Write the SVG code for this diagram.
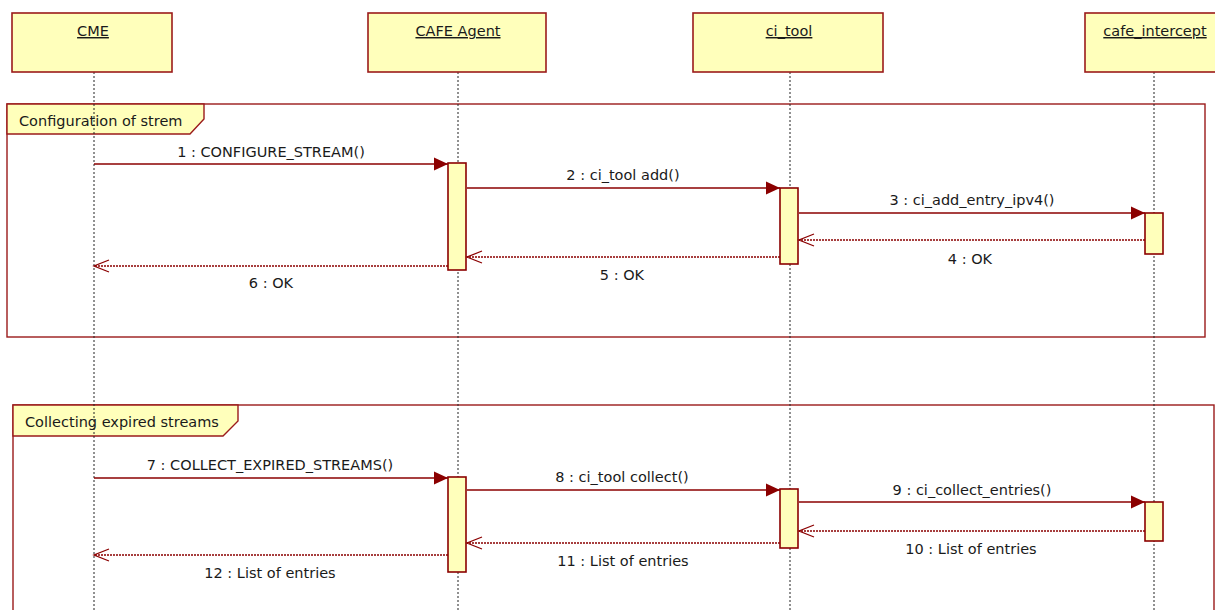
<svg xmlns="http://www.w3.org/2000/svg" width="1215" height="610" viewBox="0 0 1215 610">
<defs>
<style>
.bg{fill:#ffffff}
.box{fill:#FFFFBB;stroke:#9B1B1B;stroke-width:1.6}
.frame{fill:none;stroke:#9B1B1B;stroke-width:1.4}
.tab{fill:#FFFFBB;stroke:#9B1B1B;stroke-width:1.4}
.life{stroke:#222;stroke-width:1;stroke-dasharray:2,2;fill:none}
.act{fill:#FFFFBB;stroke:#8B0000;stroke-width:1.6}
.msg{stroke:#8B0000;stroke-width:1.5;fill:none;marker-end:url(#filled)}
.ret{stroke:#8B0000;stroke-width:1.3;stroke-dasharray:2,1;fill:none;marker-end:url(#open)}
text{font-family:"DejaVu Sans","Liberation Sans",sans-serif;font-size:14.5px;fill:#1a1a1a}
.name{text-anchor:middle;text-decoration:underline}
.lbl{text-anchor:middle}
</style>
<marker id="filled" markerUnits="userSpaceOnUse" markerWidth="16" markerHeight="14" refX="15" refY="7" orient="auto">
<path d="M1,0.5 L15,7 L1,13.5 z" fill="#8B0000"/>
</marker>
<marker id="open" markerUnits="userSpaceOnUse" markerWidth="18" markerHeight="14" refX="16" refY="7" orient="auto">
<path d="M1,1 L16,7 L1,13" fill="none" stroke="#8B0000" stroke-width="1.3"/>
</marker>
</defs>
<rect class="bg" x="0" y="0" width="1215" height="610"/>

<g id="frame-config">
<rect class="frame" x="7" y="104" width="1198" height="233"/>
<path class="tab" d="M7,104 L204,104 L204,119 L190,134 L7,134 z"/>
<text x="19" y="126">Configuration of strem</text>
</g>
<g id="frame-collect">
<rect class="frame" x="13" y="405" width="1201" height="215"/>
<path class="tab" d="M13,405 L238,405 L238,421 L223,436 L13,436 z"/>
<text x="25" y="427">Collecting expired streams</text>
</g>

<g id="lifelines">
<line class="life" x1="94" y1="72" x2="94" y2="610"/>
<line class="life" x1="458" y1="72" x2="458" y2="610"/>
<line class="life" x1="790" y1="72" x2="790" y2="610"/>
<line class="life" x1="1154" y1="72" x2="1154" y2="610"/>
</g>

<g id="CME">
<rect class="box" x="12" y="13" width="160" height="59"/>
<text class="name" x="93" y="36">CME</text>
</g>
<g id="CAFE_Agent">
<rect class="box" x="368" y="13" width="178" height="59"/>
<text class="name" x="458" y="36">CAFE Agent</text>
</g>
<g id="ci_tool">
<rect class="box" x="693" y="13" width="190" height="59"/>
<text class="name" x="789" y="36">ci_tool</text>
</g>
<g id="cafe_intercept">
<rect class="box" x="1085" y="13" width="140" height="59"/>
<text class="name" x="1155" y="36">cafe_intercept</text>
</g>

<g id="activations">
<rect class="act" x="448" y="163" width="18" height="107"/>
<rect class="act" x="780" y="188" width="18" height="76"/>
<rect class="act" x="1145" y="213" width="18" height="41"/>
<rect class="act" x="448" y="477" width="18" height="95"/>
<rect class="act" x="780" y="489" width="18" height="59"/>
<rect class="act" x="1145" y="502" width="18" height="39"/>
</g>

<g id="connectors">
<line class="msg" x1="94" y1="164" x2="448" y2="164"/>
<line class="msg" x1="467" y1="188" x2="780" y2="188"/>
<line class="msg" x1="799" y1="213" x2="1145" y2="213"/>
<line class="ret" x1="1145" y1="240" x2="799" y2="240"/>
<line class="ret" x1="780" y1="257" x2="467" y2="257"/>
<line class="ret" x1="448" y1="266" x2="94" y2="266"/>
<line class="msg" x1="94" y1="478" x2="448" y2="478"/>
<line class="msg" x1="467" y1="490" x2="780" y2="490"/>
<line class="msg" x1="799" y1="502" x2="1145" y2="502"/>
<line class="ret" x1="1145" y1="531" x2="799" y2="531"/>
<line class="ret" x1="780" y1="543" x2="467" y2="543"/>
<line class="ret" x1="448" y1="555" x2="94" y2="555"/>
</g>

<g id="labels">
<text class="lbl" x="271" y="157">1 : CONFIGURE_STREAM()</text>
<text class="lbl" x="623" y="180">2 : ci_tool add()</text>
<text class="lbl" x="972" y="205">3 : ci_add_entry_ipv4()</text>
<text class="lbl" x="970" y="264">4 : OK</text>
<text class="lbl" x="622" y="280">5 : OK</text>
<text class="lbl" x="271" y="288">6 : OK</text>
<text class="lbl" x="270" y="470">7 : COLLECT_EXPIRED_STREAMS()</text>
<text class="lbl" x="622" y="482">8 : ci_tool collect()</text>
<text class="lbl" x="972" y="495">9 : ci_collect_entries()</text>
<text class="lbl" x="971" y="554">10 : List of entries</text>
<text class="lbl" x="623" y="566">11 : List of entries</text>
<text class="lbl" x="270" y="578">12 : List of entries</text>
</g>
</svg>
